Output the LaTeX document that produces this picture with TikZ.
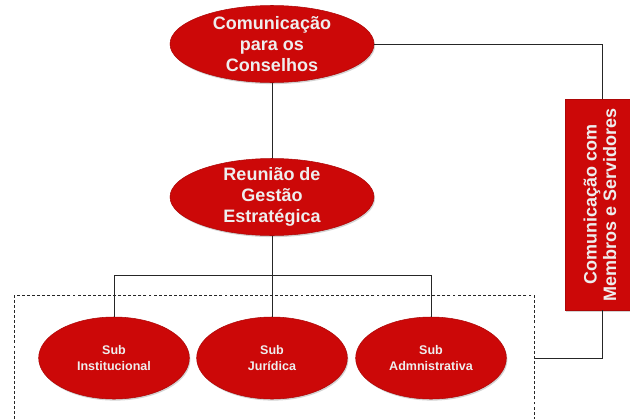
\documentclass[tikz,border=0pt]{standalone}
\usepackage{fontspec}
\setmainfont{Liberation Sans}
\usepackage{graphicx}
\usetikzlibrary{shapes.geometric, shadows}
\definecolor{vermelho}{RGB}{204,8,8}
\definecolor{texto}{RGB}{238,238,238}

\begin{document}
\begin{tikzpicture}[x=0.75pt,y=-0.75pt,
    oval/.style={ellipse, fill=vermelho, draw=vermelho!85!black, line width=0.4pt,
        text=texto, font=\bfseries\fontsize{13.5}{15.5}\selectfont, align=center,
        inner xsep=0pt, inner ysep=-10pt, minimum width=153pt, minimum height=57.75pt,
        drop shadow={opacity=0.35, shadow xshift=0.8pt, shadow yshift=-1.2pt}},
    suboval/.style={oval, font=\bfseries\fontsize{9.4}{11.6}\selectfont,
        minimum width=113pt, minimum height=61.5pt},
    painel/.style={rectangle, fill=vermelho, draw=vermelho!85!black, line width=0.4pt,
        text=texto, font=\bfseries\fontsize{13.5}{16.5}\selectfont, inner sep=0pt,
        minimum width=55.5pt, minimum height=158.25pt,
        drop shadow={opacity=0.35, shadow xshift=0.8pt, shadow yshift=-1.2pt}},
    grupo/.style={rectangle, draw=black!85, line width=0.6pt, dash pattern=on 2.2pt off 1.6pt,
        minimum width=390pt, minimum height=94.5pt},
    liga/.style={draw=black!85, line width=0.75pt}]

    \useasboundingbox (0,0) rectangle (630,418);
    \clip (0,0) rectangle (630,418);

    % caixa tracejada das subs
    \node[grupo] (subs) at (274,358.5) {};

    \node[oval] (conselhos) at (272,44) {Comunicação\\para os\\Conselhos};
    \node[oval] (gestao) at (272,197) {Reunião de\\Gestão\\Estratégica};
    \node[suboval] (inst) at (114,358) {Sub\\Institucional};
    \node[suboval] (jur) at (272,358) {Sub\\Jurídica};
    \node[suboval] (adm) at (431,358) {Sub\\Admnistrativa};
    \node[painel] (membros) at (602,204.5)
        {\rotatebox{90}{\begin{tabular}{@{}c@{}}Comunicação com\\[-2pt]Membros e Servidores\end{tabular}}};

    \coordinate (barra) at (272,275);

    \draw[liga] (conselhos) -- (gestao);
    \draw[liga] (gestao) -- (barra);
    \draw[liga] (barra) -| (inst);
    \draw[liga] (barra) -| (jur);
    \draw[liga] (barra) -| (adm);
    \draw[liga] (conselhos) -| (membros);
    \draw[liga] (membros) |- (subs);
\end{tikzpicture}
\end{document}
